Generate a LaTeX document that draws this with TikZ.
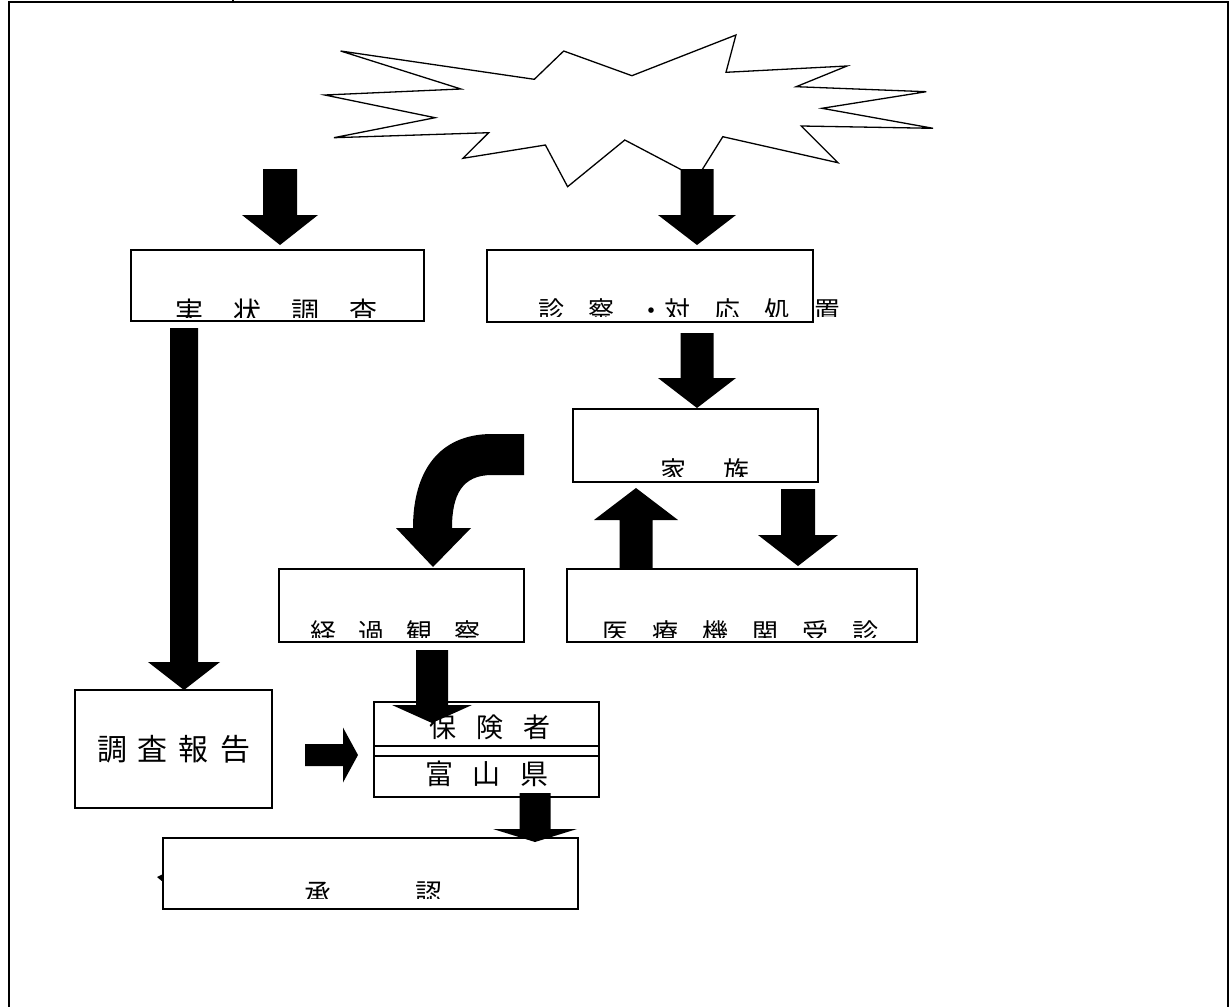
\documentclass[tikz,border=0pt]{standalone}
\usepackage{fontspec}
\setmainfont{Noto Sans CJK JP}
\tikzset{
  box/.style={draw=black, line width=1.6pt, fill=white, rectangle, inner sep=0pt},
  lbl/.style={anchor=base west, inner sep=0pt},
  frameline/.style={line width=2pt},
}
\newcommand{\ArrV}[6]{% cx, ytail, ybase, ytip, halfshaft, halfhead
  \fill[black] ({#1-#5},#2) -- ({#1+#5},#2) -- ({#1+#5},#3) -- ({#1+#6},#3) -- (#1,#4) -- ({#1-#6},#3) -- ({#1-#5},#3) -- cycle;}
\newcommand{\ArrH}[6]{% cy, xtail, xbase, xtip, halfshaft, halfhead
  \fill[black] (#2,{#1-#5}) -- (#2,{#1+#5}) -- (#3,{#1+#5}) -- (#3,{#1+#6}) -- (#4,#1) -- (#3,{#1-#6}) -- (#3,{#1-#5}) -- cycle;}
\newcommand{\fs}[1]{\fontsize{#1}{#1}\selectfont}
\begin{document}
\begin{tikzpicture}[x=1pt,y=-1pt]
\useasboundingbox (0,0) rectangle (1232,1007);
% frame
\draw[frameline] (9,1007) -- (9,2) -- (1228,2) -- (1228,1007);
\draw[frameline] (233,0) -- (233,2);
% explosion
\draw[line width=1.3pt, fill=white, line join=miter]
  (340.6,51) -- (534.3,79.3) -- (563.7,51) -- (631.9,75.7) -- (735.9,35) -- (726,72.3)
  -- (847,66) -- (796.2,86.7) -- (926.3,91.7) -- (822,108.3) -- (933.1,128.3) -- (801.3,126)
  -- (837.9,162.7) -- (722.8,136.7) -- (697,178) -- (624.8,140) -- (567.6,186.7) -- (545.4,145)
  -- (462.9,158.3) -- (488.7,132.7) -- (333.9,137.7) -- (435.1,117.7) -- (324.8,95) -- (460.9,89) -- cycle;
% boxes
\node[box, minimum width=293, minimum height=71] (b1) at (277.5,285.5) {};
\node[box, minimum width=326, minimum height=72] (b2) at (650,286) {};
\node[box, minimum width=245, minimum height=73] (b3) at (695.5,445.5) {};
\node[box, minimum width=245, minimum height=73] (b4) at (401.5,605.5) {};
\node[box, minimum width=350, minimum height=73] (b5) at (742,605.5) {};
\node[box, minimum width=197, minimum height=118] (b6) at (173.5,749) {};
\node[box, minimum width=225, minimum height=44] (b7) at (486.5,724) {};
\node[box, minimum width=225, minimum height=10] (b7s) at (486.5,751) {};
\node[box, minimum width=225, minimum height=41] (b8) at (486.5,776.5) {};
\node[box, minimum width=415, minimum height=71] (b9) at (370.5,873.5) {};
% clipped labels
\begin{scope}\clip (132,251) rectangle (423,317.5);
\node[lbl, font=\fs{28}] (t1) at (175,322) {実\hspace{30pt}状\hspace{30pt}調\hspace{30pt}査};
\end{scope}
\begin{scope}\clip (488,251) rectangle (1000,316.5);
\node[lbl, font=\fs{26}] (t2) at (538,320) {診\hspace{24pt}察\hspace{24pt}・対\hspace{24pt}応\hspace{24pt}処\hspace{24pt}置};
\end{scope}
\begin{scope}\clip (574,410) rectangle (817,476);
\node[lbl, font=\fs{26}] (t3) at (660,480) {家\hspace{37pt}族};
\end{scope}
\begin{scope}\clip (280,570) rectangle (523,637.5);
\node[lbl, font=\fs{26}] (t4) at (310,642) {経\hspace{22pt}過\hspace{22pt}観\hspace{22pt}察};
\end{scope}
\begin{scope}\clip (568,570) rectangle (916,637.5);
\node[lbl, font=\fs{26}] (t5) at (602,642) {医\hspace{24pt}療\hspace{24pt}機\hspace{24pt}関\hspace{24pt}受\hspace{24pt}診};
\end{scope}
\begin{scope}\clip (164,839) rectangle (577,898);
\node[lbl, font=\fs{27}] (t9) at (304,903) {承\hspace{84pt}認};
\end{scope}
% plain labels
\node[font=\fs{30}, inner sep=0pt] (t6) at (173.5,749) {調\hspace{11pt}査\hspace{11pt}報\hspace{11pt}告};
\node[font=\fs{27}, inner sep=0pt] (t7) at (490,727) {保\hspace{20pt}険\hspace{20pt}者};
\node[font=\fs{28}, inner sep=0pt] (t8) at (487,774) {富\hspace{20pt}山\hspace{20pt}県};
% block arrows
\ArrV{280}{169}{215}{245}{17}{38}
\ArrV{697}{169}{215}{245}{16.5}{39}
\ArrV{697}{333}{378}{408}{16.5}{39}
\ArrV{636}{568}{520}{488}{16.5}{42}
\ArrV{798}{489}{535}{566}{17}{40}
\ArrV{184}{328}{662}{690}{14}{36}
\ArrV{432}{650}{705}{723}{16}{40}
\ArrH{755}{305}{343}{358}{11}{27.5}
\ArrV{535}{793}{829}{842}{15.5}{42}
% curved arrow
\fill[black] (524,434) -- (492,434) .. controls (440,434) and (413,470) .. (413,528)
  -- (396,528) -- (433,567) -- (471,528) -- (452,528)
  .. controls (452,495) and (462,475) .. (492,475) -- (524,475) -- cycle;
% small mark at left of the last box
\fill[black] (157,877) -- (163,874) -- (163,882) -- cycle;
\end{tikzpicture}
\end{document}
